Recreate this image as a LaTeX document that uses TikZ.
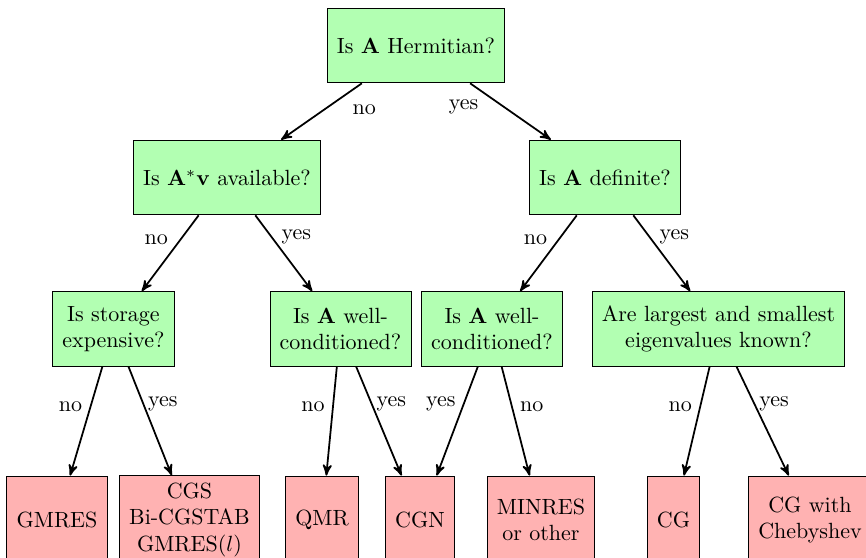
\documentclass[tikz,border=0pt]{standalone}
\usetikzlibrary{arrows}

\begin{document}
\begin{tikzpicture}[x=0.4545pt,y=-0.4545pt,
    quest/.style={draw,fill=green!30,align=center,inner xsep=4.4pt,minimum height=34pt},
    method/.style={draw,fill=red!30,align=center,inner xsep=4.4pt,minimum height=40pt},
    branch/.style={thick,->,>=stealth'}]
\useasboundingbox (0,0) rectangle (866,558);
% questions
\node[quest] (herm) at (416,45.5) {Is $\mathbf{A}$ Hermitian?};
\node[quest] (adj) at (227,177.5) {Is $\mathbf{A}^{*}\mathbf{v}$ available?};
\node[quest] (defi) at (605,177.5) {Is $\mathbf{A}$ definite?};
\node[quest] (stor) at (113.5,329) {Is storage\\expensive?};
\node[quest] (condA) at (340.5,329) {Is $\mathbf{A}$ well-\\conditioned?};
\node[quest] (condB) at (492,329) {Is $\mathbf{A}$ well-\\conditioned?};
\node[quest] (eig) at (718.5,329) {Are largest and smallest\\eigenvalues known?};
% methods
\node[method] (gmres) at (57,520) {GMRES};
\node[method] (cgs) at (189.5,520) {CGS\\Bi-CGSTAB\\GMRES($l$)};
\node[method] (qmr) at (322,520) {QMR};
\node[method] (cgn) at (420,520) {CGN};
\node[method] (minres) at (541,520) {MINRES\\or other};
\node[method] (cg) at (673.5,520) {CG};
\node[method] (cheb) at (810,520) {CG with\\Chebyshev};

\draw[branch] (herm) -- node[pos=.46,right=9pt]{no} (adj);
\draw[branch] (herm) -- node[pos=.42,left=8pt]{yes} (defi);

\draw[branch] (adj) -- node[pos=.32,left=2pt]{no} (stor);
\draw[branch] (adj) -- node[pos=.28,right=1pt]{yes} (condA);
\draw[branch] (defi) -- node[pos=.32,left=1.5pt]{no} (condB);
\draw[branch] (defi) -- node[pos=.28,right=1pt]{yes} (eig);

\draw[branch] (stor) -- node[pos=.37,left]{no} (gmres);
\draw[branch] (stor) -- node[pos=.34,right=-1.5pt]{yes} (cgs);
\draw[branch] (condA) -- node[pos=.37,left]{no} (qmr);
\draw[branch] (condA) -- node[pos=.34,right=-1.5pt]{yes} (cgn);
\draw[branch] (condB) -- node[pos=.34,left]{yes} (cgn);
\draw[branch] (condB) -- node[pos=.37,right]{no} (minres);
\draw[branch] (eig) -- node[pos=.37,left]{no} (cg);
\draw[branch] (eig) -- node[pos=.34,right=-1.5pt]{yes} (cheb);
\end{tikzpicture}
\end{document}
